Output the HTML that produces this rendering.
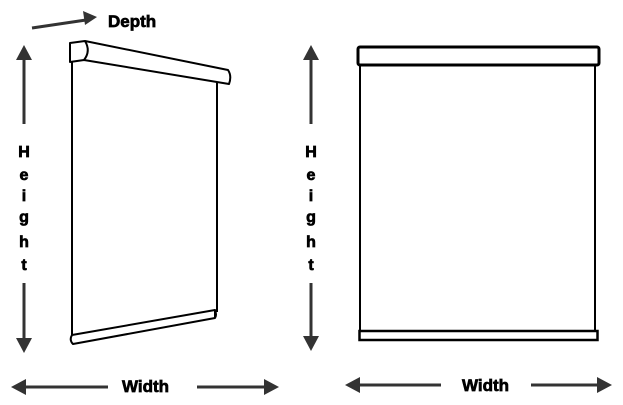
<!DOCTYPE html>
<html><head><meta charset="utf-8"><style>
html,body{margin:0;padding:0;background:#fff;}
svg{display:block}
text{font-family:"Liberation Sans",Arial,sans-serif;font-weight:bold;fill:#000;stroke:#000;stroke-width:0.7}
</style></head><body>
<svg width="623" height="405" viewBox="0 0 623 405" xmlns="http://www.w3.org/2000/svg">
<g stroke="#333" stroke-width="3" fill="#333">
  <line x1="32" y1="28" x2="86" y2="20"/>
  <polygon points="97,17 83,11 85,25" stroke="none"/>
  <line x1="24" y1="55" x2="24" y2="124"/>
  <line x1="24" y1="283" x2="24" y2="342"/>
  <polygon points="24,45 16,60 32,60" stroke="none"/>
  <polygon points="24,353 16,338 32,338" stroke="none"/>
  <line x1="311" y1="55" x2="311" y2="124"/>
  <line x1="311" y1="283" x2="311" y2="340"/>
  <polygon points="311,45 303,60 319,60" stroke="none"/>
  <polygon points="311,351 303,336 319,336" stroke="none"/>
  <line x1="22" y1="387" x2="108" y2="387"/>
  <polygon points="11,387 26,379 26,395" stroke="none"/>
  <line x1="197" y1="387" x2="266" y2="387"/>
  <polygon points="279,387 264,379 264,395" stroke="none"/>
  <line x1="355" y1="385" x2="441" y2="385"/>
  <polygon points="345,385 360,377 360,393" stroke="none"/>
  <line x1="531" y1="385" x2="600" y2="385"/>
  <polygon points="612,385 597,377 597,393" stroke="none"/>
</g>
<g stroke="#000" stroke-width="2" fill="#fff" stroke-linejoin="round">
  <line x1="72" y1="60" x2="72" y2="340"/>
  <line x1="217" y1="82" x2="217" y2="312"/>
  <path d="M70,43 L85,41 L228,70 Q232,76 229,84 L84,60 L70,62 Z"/>
  <path d="M85,41 Q91,51 84,60" fill="none"/>
  <path d="M72,335 L215,310 Q217,315 215,318 L73,344 Q69,340 72,335 Z"/>
  <line x1="215" y1="310" x2="215" y2="318"/>
</g>
<g stroke="#000" fill="#fff">
  <line x1="360" y1="64" x2="360" y2="331" stroke-width="2"/>
  <line x1="595" y1="64" x2="595" y2="331" stroke-width="2"/>
  <rect x="358" y="47" width="241" height="18" rx="2" stroke-width="3"/>
  <rect x="359.5" y="331" width="238" height="9" stroke-width="2.5"/>
</g>
<text x="108" y="27" font-size="17">Depth</text>
<text x="122" y="392" font-size="17">Width</text>
<text x="462" y="391" font-size="17">Width</text>
<g font-size="16" text-anchor="middle">
  <text x="24" y="157">H</text><text x="24" y="180">e</text><text x="24" y="201">i</text>
  <text x="24" y="222">g</text><text x="24" y="247">h</text><text x="24" y="270">t</text>
  <text x="311" y="157">H</text><text x="311" y="180">e</text><text x="311" y="201">i</text>
  <text x="311" y="222">g</text><text x="311" y="247">h</text><text x="311" y="270">t</text>
</g>
</svg>
</body></html>
